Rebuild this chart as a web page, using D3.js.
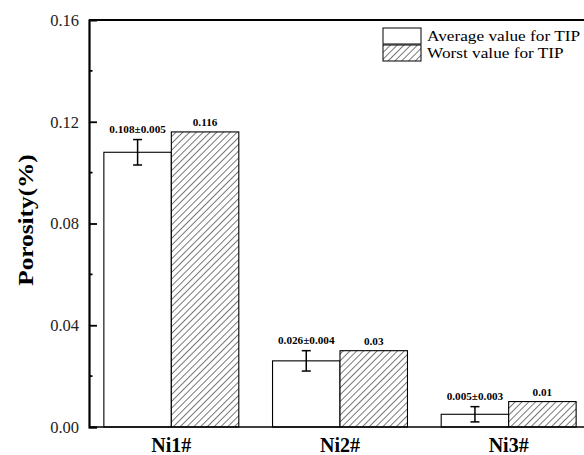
<!DOCTYPE html>
<html>
<head>
<meta charset="utf-8">
<script src="https://cdn.jsdelivr.net/npm/d3@7"></script>
<style>
  html, body { margin: 0; padding: 0; background: #fff; }
  svg { display: block; }
  svg text { font-family: "Liberation Serif", "DejaVu Serif", serif; }
</style>
</head>
<body>
<svg id="chart" width="584" height="455"></svg>
<script>
// Porosity per sample: average (with spread) and worst case
const categories = ["Ni1#", "Ni2#", "Ni3#"];
const averageValues = [0.108, 0.026, 0.005];
const averageErrors = [0.005, 0.004, 0.003];
const worstValues = [0.116, 0.03, 0.01];
const averageLabels = ["0.108\u00b10.005", "0.026\u00b10.004", "0.005\u00b10.003"];
const worstLabels = ["0.116", "0.03", "0.01"];
const seriesNames = ["Average value for TIP", "Worst value for TIP"];
const yTicks = [0, 0.04, 0.08, 0.12, 0.16];
const yMinorTicks = [0.02, 0.06, 0.10, 0.14];

const serif = "Liberation Serif";
const svg = d3.select("#chart");
const plotLeft = 89, plotTop = 20, plotBottom = 427;

const x = d3.scaleBand().domain(categories).range([87, 593])
  .paddingInner(0.2).paddingOuter(0.1);
const sub = d3.scaleBand().domain([0, 1]).range([0, x.bandwidth()]);
const y = d3.scaleLinear().domain([0, 0.16]).range([plotBottom, plotTop]);

// diagonal hatch pattern for the worst-case bars
const hatchGap = 4.8;
const defs = svg.append("defs");
const pat = defs.append("pattern")
  .attr("id", "hatch").attr("patternUnits", "userSpaceOnUse")
  .attr("width", hatchGap).attr("height", hatchGap)
  .attr("patternTransform", "rotate(45)");
pat.append("rect").attr("width", hatchGap).attr("height", hatchGap).attr("fill", "#fff");
pat.append("line").attr("x1", 0.5).attr("y1", 0).attr("x2", 0.5).attr("y2", hatchGap)
  .attr("stroke", "#555").attr("stroke-width", 0.8);

// top frame line
svg.append("line").attr("x1", plotLeft).attr("x2", 584).attr("y1", plotTop).attr("y2", plotTop)
  .attr("stroke", "#000").attr("stroke-width", 2);

// bars
const groups = svg.append("g").selectAll("g").data(categories).join("g")
  .attr("transform", d => `translate(${x(d)},0)`);

groups.append("rect")
  .attr("x", sub(0)).attr("width", sub.bandwidth())
  .attr("y", (d, i) => y(averageValues[i]))
  .attr("height", (d, i) => y(0) - y(averageValues[i]))
  .attr("fill", "#fff").attr("stroke", "#000").attr("stroke-width", 1.1);

groups.append("rect")
  .attr("x", sub(1)).attr("width", sub.bandwidth())
  .attr("y", (d, i) => y(worstValues[i]))
  .attr("height", (d, i) => y(0) - y(worstValues[i]))
  .attr("fill", "url(#hatch)").attr("stroke", "#000").attr("stroke-width", 1.1);

// error bars on the average bars, value labels above both bars
const cx = sub(0) + sub.bandwidth() / 2;
groups.each(function (d, i) {
  const g = d3.select(this);
  const hi = y(averageValues[i] + averageErrors[i]);
  const lo = y(averageValues[i] - averageErrors[i]);
  g.append("line").attr("x1", cx).attr("x2", cx).attr("y1", hi).attr("y2", lo)
    .attr("stroke", "#000").attr("stroke-width", 1.5);
  [hi, lo].forEach(v => g.append("line")
    .attr("x1", cx - 4.5).attr("x2", cx + 4.5).attr("y1", v).attr("y2", v)
    .attr("stroke", "#000").attr("stroke-width", 1.5));
  g.append("text").attr("x", cx).attr("y", hi - 7)
    .attr("text-anchor", "middle").attr("font-family", serif)
    .attr("font-size", 11.2).attr("font-weight", "bold")
    .text(averageLabels[i]);
  g.append("text").attr("x", sub(1) + sub.bandwidth() / 2).attr("y", y(worstValues[i]) - 6)
    .attr("text-anchor", "middle").attr("font-family", serif)
    .attr("font-size", 11.2).attr("font-weight", "bold")
    .text(worstLabels[i]);
});

// x axis
svg.append("line").attr("x1", plotLeft).attr("x2", 584).attr("y1", plotBottom).attr("y2", plotBottom)
  .attr("stroke", "#000").attr("stroke-width", 1.5);
svg.append("g").selectAll("text").data(categories).join("text")
  .attr("x", d => x(d) + x.bandwidth() / 2).attr("y", 452)
  .attr("text-anchor", "middle").attr("font-family", serif)
  .attr("font-size", 20).attr("font-weight", "bold")
  .text(d => d);

// y axis with inward major ticks and minor ticks
const yAxis = svg.append("g").attr("transform", `translate(${plotLeft},0)`)
  .call(d3.axisLeft(y).tickValues(yTicks).tickFormat(d3.format(".2f"))
    .tickSize(-8).tickPadding(10));
yAxis.attr("font-family", serif);
yAxis.select(".domain").attr("stroke-width", 2.2);
yAxis.selectAll(".tick line").attr("stroke-width", 1.8);
yAxis.selectAll(".tick text").attr("font-size", 16.5).attr("fill", "#222")
  .attr("font-family", serif);
yAxis.selectAll(".tick").filter(d => d === 0.16).select("line").remove();

svg.append("g").selectAll("line").data(yMinorTicks).join("line")
  .attr("x1", plotLeft).attr("x2", plotLeft + 3.5)
  .attr("y1", d => y(d)).attr("y2", d => y(d))
  .attr("stroke", "#000").attr("stroke-width", 1.8);

svg.append("text")
  .attr("transform", `translate(33,220) rotate(-90) scale(1.15,1)`)
  .attr("text-anchor", "middle").attr("font-family", serif)
  .attr("font-size", 22).attr("font-weight", "bold")
  .text("Porosity(%)");

// legend
const legend = svg.append("g").attr("transform", "translate(383,28)");
const fills = ["#fff", "url(#hatch)"];
seriesNames.forEach((name, i) => {
  const row = legend.append("g").attr("transform", `translate(0,${i * 17})`);
  row.append("rect").attr("width", 38).attr("height", 16)
    .attr("fill", fills[i]).attr("stroke", "#000").attr("stroke-width", 1);
  row.append("text").attr("transform", "translate(44,13) scale(1.15,1)")
    .attr("font-family", serif).attr("font-size", 15).text(name);
});
</script>
</body>
</html>
